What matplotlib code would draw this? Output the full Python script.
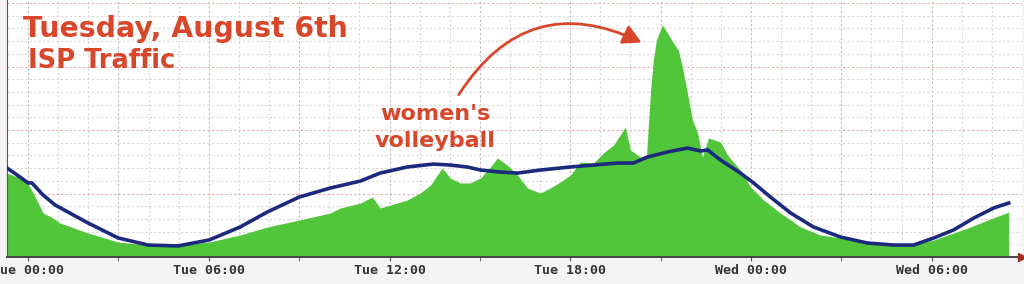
import numpy as np
import matplotlib
matplotlib.use('Agg')
import matplotlib.pyplot as plt
from matplotlib.patches import FancyArrowPatch

# hours since Tue 00:00, traffic in grid units (minor grid = 1)
traffic_hours = [-0.70, -0.27, 0.00, 0.17, 0.50, 0.83, 1.06, 1.99, 2.99, 3.99, 4.98, 6.01,
                 7.04, 7.94, 9.00, 10.03, 10.37, 11.03, 11.43, 11.69, 12.03, 12.59, 13.02,
                 13.36, 13.75, 14.02, 14.35, 14.68, 15.02, 15.35, 15.58, 15.91, 16.25, 16.58,
                 17.01, 17.34, 17.67, 18.01, 18.34, 18.77, 19.10, 19.44, 19.83, 20.00, 20.33,
                 20.53, 20.66, 20.76, 20.86, 21.06, 21.23, 21.43, 21.59, 21.73, 21.89, 22.06,
                 22.23, 22.39, 22.59, 22.99, 23.22, 23.65, 23.99, 24.42, 24.98, 25.65, 26.31,
                 26.98, 27.64, 28.31, 28.97, 29.63, 30.07, 30.53, 31.20, 31.86, 32.56]
traffic = [6.61, 6.22, 5.75, 5.04, 3.46, 3.07, 2.68, 1.89, 1.18, 0.94, 0.94, 1.18,
           1.73, 2.36, 2.91, 3.46, 3.86, 4.25, 4.72, 3.86, 4.09, 4.49, 5.04,
           5.67, 7.01, 6.22, 5.83, 5.83, 6.22, 7.09, 7.80, 7.24, 6.46, 5.43,
           5.04, 5.43, 5.91, 6.46, 7.48, 7.40, 8.19, 8.82, 10.24, 8.43, 7.87,
           7.87, 12.91, 15.51, 17.09, 18.27, 17.64, 16.85, 16.30, 14.88, 12.91, 10.79,
           9.76, 7.87, 9.37, 9.06, 8.03, 6.85, 5.51, 4.49, 3.46, 2.36, 1.73,
           1.50, 1.18, 0.94, 0.94, 1.10, 1.34, 1.73, 2.28, 2.91, 3.54]

baseline_hours = [-0.70, -0.27, 0.00, 0.13, 0.50, 0.90, 1.99, 2.99, 3.99, 4.98, 6.01, 7.04,
                  7.94, 9.00, 10.03, 11.03, 11.69, 12.59, 13.46, 14.02, 14.58, 15.02, 15.68,
                  16.25, 17.01, 18.01, 18.77, 19.57, 20.10, 20.56, 21.23, 21.89, 22.33, 22.56,
                  22.99, 23.65, 24.09, 24.65, 25.32, 26.08, 26.98, 27.87, 28.74, 29.40, 30.07,
                  30.73, 31.40, 32.06, 32.56]
baseline = [7.01, 6.30, 5.83, 5.83, 4.88, 4.09, 2.68, 1.50, 0.94, 0.87, 1.34, 2.36,
            3.54, 4.72, 5.43, 5.98, 6.61, 7.09, 7.32, 7.24, 7.09, 6.85, 6.69,
            6.61, 6.85, 7.09, 7.24, 7.40, 7.40, 7.87, 8.27, 8.58, 8.35, 8.43,
            7.64, 6.61, 5.83, 4.72, 3.46, 2.36, 1.57, 1.10, 0.94, 0.94, 1.50,
            2.13, 3.07, 3.86, 4.25]

label_hours = [0, 6, 12, 18, 24, 30]
tick_labels = ["Tue 00:00", "Tue 06:00", "Tue 12:00", "Tue 18:00", "Wed 00:00", "Wed 06:00"]

red = "#d9472b"
green = "#52c63b"
navy = "#1b2a7d"

fig = plt.figure(figsize=(10.24, 2.84), dpi=100, facecolor="#f4f4f4")
ax = fig.add_axes([7 / 1024, 27 / 284, 1015 / 1024, 257 / 284])
ax.set_facecolor("white")
xmax = 33.0
ax.set_xlim(-0.7, xmax)
ax.set_ylim(0, 20.24)

# grid: minor every hour / unit, major every 3 hours / 5 units
for h in np.arange(0, 33):
    major = h % 3 == 0
    ax.axvline(h, color="#bdbdbd" if major else "#d9d9d9", lw=0.8,
               ls=(0, (2, 2)), zorder=0)
for v in np.arange(1, 21):
    major = v % 5 == 0
    ax.axhline(v, color="#e8a8a8" if major else "#d9d9d9", lw=0.8,
               ls=(0, (2, 2)), zorder=0)

ax.fill_between(traffic_hours, traffic, 0, color=green, lw=0, zorder=2)
ax.plot(baseline_hours, baseline, color=navy, lw=2.6, zorder=3)

ax.set_xticks(label_hours)
ax.set_xticklabels(tick_labels, family="DejaVu Sans Mono", fontsize=9.5,
                   fontweight="bold", color="#333333")
ax.set_xticks(np.arange(0, 33, 3), minor=True)
ax.tick_params(axis="x", which="both", length=3, color="#555555", pad=2)
ax.set_yticks([])
for s in ["top", "right"]:
    ax.spines[s].set_visible(False)
ax.spines["left"].set_color("#555555")
ax.spines["bottom"].set_color("#444444")
ax.spines["bottom"].set_linewidth(1.4)
ax.plot([xmax], [0], marker=">", color="#a03020", ms=6, clip_on=False, zorder=5)

ax.text(-0.17, 17.32, "Tuesday, August 6th", color=red, fontsize=20.4, fontweight="bold",
        ha="left", va="baseline")
ax.text(0.0, 14.88, "ISP Traffic", color=red, fontsize=18.5, fontweight="bold",
        ha="left", va="baseline")
ax.text(13.52, 10.79, "women's", color=red, fontsize=16, fontweight="bold",
        ha="center", va="baseline")
ax.text(13.52, 8.66, "volleyball", color=red, fontsize=16, fontweight="bold",
        ha="center", va="baseline")

arrow = FancyArrowPatch((14.25, 12.6), (20.45, 16.8), connectionstyle="arc3,rad=-0.45",
                        arrowstyle="-|>,head_length=11,head_width=6", color=red, lw=2.0,
                        zorder=6)
ax.add_patch(arrow)

fig.savefig("out.png", dpi=100, facecolor=fig.get_facecolor())
